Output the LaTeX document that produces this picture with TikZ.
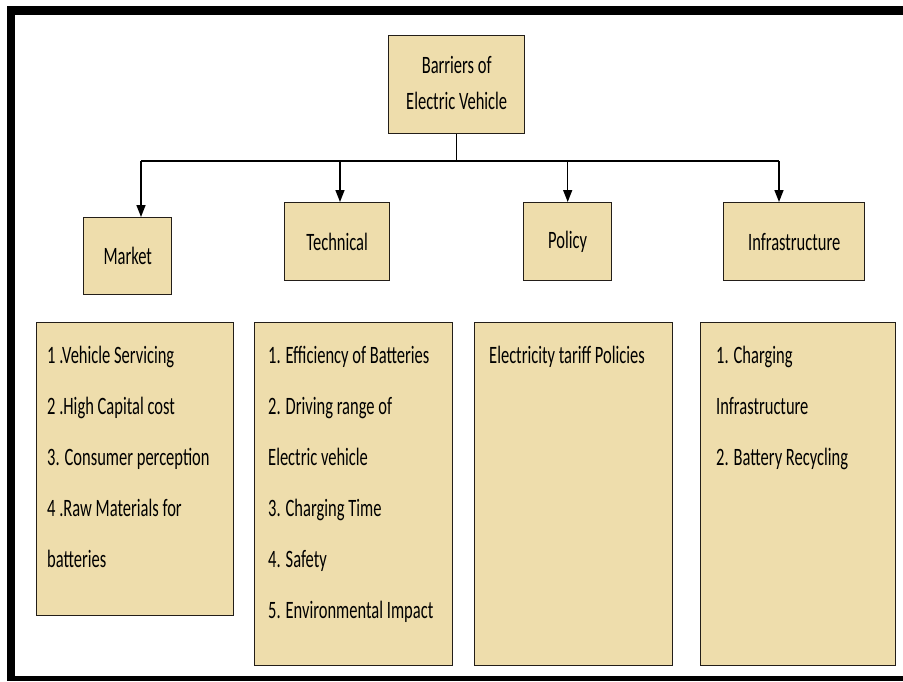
\documentclass[tikz,border=0pt]{standalone}
\usepackage{fontspec}
\setmainfont{Carlito}[FakeStretch=0.66]
\usetikzlibrary{arrows.meta,positioning}
\definecolor{papyrus}{RGB}{238,221,172}
\definecolor{boxedge}{RGB}{35,30,25}
\tikzset{
    every node/.style={font=\fontsize{25}{36}\selectfont},
    topic/.style={draw=boxedge, line width=1.4pt, fill=papyrus, rectangle, anchor=north west, align=center, inner sep=0pt},
    itemtext/.style={anchor=north west, align=left, inner sep=0pt, font=\fontsize{25}{51}\selectfont},
    feed/.style={-{Triangle[length=12pt,width=9pt]}, line width=1.5pt}
}

\begin{document}
\begin{tikzpicture}[x=1pt,y=-1pt]
    \useasboundingbox (0,0) rectangle (903,681);
    % frame
    \fill[black] (7,6) rectangle (903,15);
    \fill[black] (7,6) rectangle (15,681);
    \fill[black] (7,676) rectangle (903,681);

    % headings
    \node[topic, minimum width=136pt, minimum height=98pt, text depth=4pt] (root) at (388,35) {Barriers of\\Electric Vehicle};
    \node[topic, minimum width=88pt, minimum height=77pt] (market) at (83,217) {Market};
    \node[topic, minimum width=105pt, minimum height=78pt] (technical) at (284,202) {Technical};
    \node[topic, minimum width=88pt, minimum height=78pt] (policy) at (523,202) {Policy};
    \node[topic, minimum width=141pt, minimum height=78pt] (infra) at (723,202) {Infrastructure};

    % lists
    \node[topic, minimum width=197pt, minimum height=293pt] (marketlist) at (36,322) {};
    \node[topic, minimum width=198pt, minimum height=343pt] (technicallist) at (254,322) {};
    \node[topic, minimum width=198pt, minimum height=343pt] (policylist) at (474,322) {};
    \node[topic, minimum width=195pt, minimum height=343pt] (infralist) at (700,322) {};

    \node[itemtext] (markettext) at ([xshift=11pt,yshift=-24pt]marketlist.north west)
        {1 .Vehicle Servicing\\2 .High Capital cost\\3. Consumer perception\\4 .Raw Materials for\\batteries};
    \node[itemtext] (technicaltext) at ([xshift=14pt,yshift=-24pt]technicallist.north west)
        {1. Efficiency of Batteries\\2. Driving range of\\Electric vehicle\\3. Charging Time\\4. Safety\\5. Environmental Impact};
    \node[itemtext] (policytext) at ([xshift=15pt,yshift=-24pt]policylist.north west)
        {Electricity tariff Policies};
    \node[itemtext] (infratext) at ([xshift=16pt,yshift=-24pt]infralist.north west)
        {1. Charging\\Infrastructure\\2. Battery Recycling};

    % connectors
    \coordinate (busleft) at (141,161);
    \coordinate (busright) at (779,161);
    \coordinate (busmid) at (root.south |- busleft);
    \coordinate (taptech) at (340,161);
    \coordinate (tappol) at (policy.north |- busleft);
    \draw[line width=1.5pt] (root.south) -- (busmid);
    \draw[line width=1.5pt] (busleft) -- (busright);
    \draw[feed] (busleft) -- (busleft |- market.north);
    \draw[feed] (taptech) -- (taptech |- technical.north);
    \draw[feed] (tappol) -- (policy.north);
    \draw[feed] (busright) -- (busright |- infra.north);
\end{tikzpicture}
\end{document}
